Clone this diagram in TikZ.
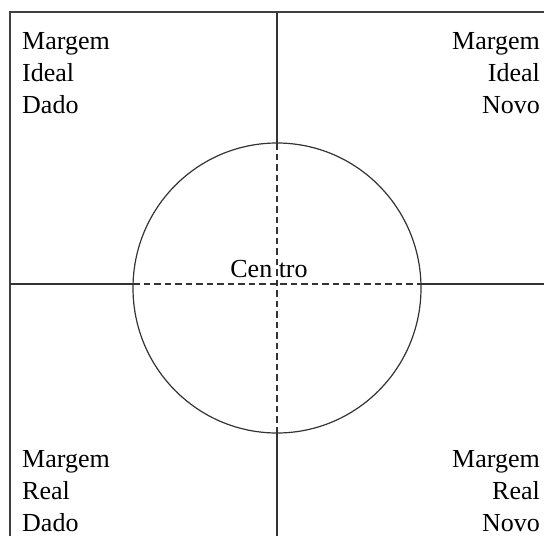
\documentclass[tikz,border=0pt]{standalone}
\usepackage{fontspec}
\setmainfont{Liberation Serif}
\usetikzlibrary{positioning}
\tikzset{
  rotulo/.style={font=\fontsize{26}{32}\selectfont,inner sep=0pt},
  eixo/.style={line width=1.3pt,black!80},
  tracejado/.style={line width=1.3pt,black!80,dash pattern=on 6.5pt off 4pt}
}
\begin{document}
\begin{tikzpicture}[x=1pt,y=-1pt]
\useasboundingbox (0,0) rectangle (546,536);
% frame (left and top edges)
\coordinate (canto) at (10,12);
\coordinate (topoD) at (544,12);
\coordinate (baseE) at (10,536);
\draw[line width=1.5pt,black!75] (baseE) -- (canto) -- (topoD);
% axes through the centre
\coordinate (oeste) at (10,284);
\coordinate (leste) at (544,284);
\coordinate (norte) at (277,12);
\coordinate (sul) at (277,536);
\coordinate (elW) at (133,284);
\coordinate (elE) at (421,284);
\coordinate (elN) at (277,143);
\coordinate (elS) at (277,433);
\draw[eixo] (oeste) -- (elW);
\draw[eixo] (elE) -- (leste);
\draw[eixo] (norte) -- (elN);
\draw[eixo] (elS) -- (sul);
\draw[tracejado] (elW) -- (elE);
\draw[tracejado] (elN) -- (elS);
% the ellipse
\draw[line width=1.2pt,black!80] (277,288) ellipse [x radius=144, y radius=145];
% corner labels
\node[rotulo,align=left,anchor=north west] (ideDado) at (22,32) {Margem\\Ideal\\Dado};
\node[rotulo,align=right,anchor=north east] (ideNovo) at (540,32) {Margem\\Ideal\\Novo};
\node[rotulo,align=left,anchor=north west] (reaDado) at (22,450) {Margem\\Real\\Dado};
\node[rotulo,align=right,anchor=north east] (reaNovo) at (540,450) {Margem\\Real\\Novo};
\node[rotulo,anchor=base] (centro) at (269,277) {Cen tro};
\end{tikzpicture}
\end{document}
